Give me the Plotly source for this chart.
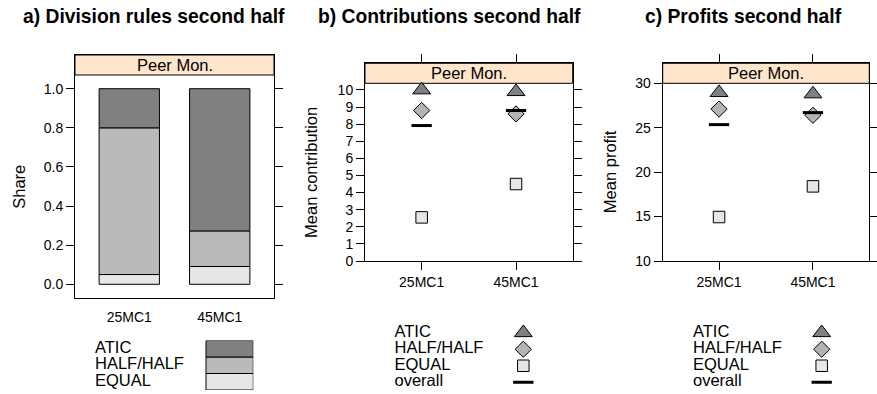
import plotly.graph_objects as go

W, H = 877, 394

# ---------------- data ----------------
categories = ['25MC1', '45MC1']
rules = ['ATIC', 'HALF/HALF', 'EQUAL']
share_equal = [0.05, 0.091]
share_half = [0.75, 0.182]
share_atic = [0.20, 0.727]

contrib_atic = [10.0, 9.9]
contrib_half = [8.8, 8.6]
contrib_equal = [2.55, 4.5]
contrib_overall = [7.92, 8.8]

profit_atic = [28.95, 28.8]
profit_half = [27.1, 26.4]
profit_equal = [14.95, 18.4]
profit_overall = [25.35, 26.7]

share_ticks = [0.0, 0.2, 0.4, 0.6, 0.8, 1.0]
contrib_ticks = list(range(0, 11))
profit_ticks = [10, 15, 20, 25, 30]

panel_titles = ['a) Division rules second half', 'b) Contributions second half', 'c) Profits second half']
y_titles = ['Share', 'Mean contribution', 'Mean profit']
strip_label = 'Peer Mon.'
legend_point_labels = ['ATIC', 'HALF/HALF', 'EQUAL', 'overall']

# ---------------- style ----------------
FONT = 'Liberation Sans, Arial, Helvetica, sans-serif'
C_ATIC, C_HALF, C_EQUAL = '#808080', '#bababa', '#e6e6e6'
M_ATIC, M_HALF, M_EQUAL = '#808080', '#b3b3b3', '#e6e6e6'
STRIP = '#ffe5cc'
INK = '#000000'
TXT = 16.5

def px(p):
    return p / W

def py(p):
    return 1 - p / H

# panel geometry in px: left, right, strip_top, plot_top, bottom, y-range
panels = [
    dict(l=75, r=274, st=55, pt=75, b=298, yr=(-0.07, 1.07)),
    dict(l=365, r=572.7, st=63.3, pt=83.3, b=261, yr=(0, 10.39)),
    dict(l=662.7, r=869.3, st=63.3, pt=83.3, b=261, yr=(10, 30)),
]

SYMS = [('triangle-up', 15.5, M_ATIC, 1),
        ('diamond', 12.5, M_HALF, 1),
        ('square', 11.5, M_EQUAL, 1),
        ('line-ew', 14.5, INK, 3)]

fig = go.Figure()

# ---- panel a: stacked bars
base_half = [e for e in share_equal]
base_atic = [e + h for e, h in zip(share_equal, share_half)]
for vals, base, col in [(share_equal, [0, 0], C_EQUAL),
                        (share_half, base_half, C_HALF),
                        (share_atic, base_atic, C_ATIC)]:
    fig.add_trace(go.Bar(x=categories, y=vals, base=base, width=0.667,
                         marker=dict(color=col, line=dict(color=INK, width=1)),
                         xaxis='x', yaxis='y', showlegend=False))

# ---- panels b, c: points
def add_points(series, xa, ya):
    for vals, (sym, size, col, lw) in zip(series, SYMS):
        fig.add_trace(go.Scatter(x=categories, y=vals, mode='markers', xaxis=xa, yaxis=ya,
                                 cliponaxis=False,
                                 marker=dict(symbol=sym, size=size, color=col,
                                             line=dict(color=INK, width=lw)),
                                 showlegend=False))

add_points([contrib_atic, contrib_half, contrib_equal, contrib_overall], 'x2', 'y2')
add_points([profit_atic, profit_half, profit_equal, profit_overall], 'x3', 'y3')

# ---- axes for the panels
tick_sets = [(share_ticks, [f'{v:.1f}' for v in share_ticks]),
             (contrib_ticks, [str(v) for v in contrib_ticks]),
             (profit_ticks, [str(v) for v in profit_ticks])]
layout_axes = {}
for i, p in enumerate(panels):
    sfx = '' if i == 0 else str(i + 1)
    y0, y1 = p['yr']
    ytop = y1 + (y1 - y0) * (p['pt'] - p['st']) / (p['b'] - p['pt'])
    xa = dict(domain=[px(p['l']), px(p['r'])], anchor='y' + sfx, type='category',
              range=[-0.6, 1.6], showline=True, linecolor=INK, linewidth=1,
              showgrid=False, zeroline=False, automargin=False,
              tickfont=dict(family=FONT, size=14, color=INK), fixedrange=True)
    if i == 0:
        xa.update(ticks='outside', ticklen=6, tickcolor='rgba(0,0,0,0)', mirror=True)
    else:
        xa.update(ticks='outside', ticklen=8, tickcolor=INK, tickwidth=1, mirror='ticks')
    ya = dict(domain=[py(p['b']), py(p['st'])], anchor='x' + sfx,
              range=[y0, ytop], tickvals=tick_sets[i][0], ticktext=tick_sets[i][1],
              showline=True, linecolor=INK, linewidth=1, mirror='ticks',
              ticks='outside', ticklen=8, tickcolor=INK, tickwidth=1,
              showgrid=False, zeroline=False, automargin=False,
              tickfont=dict(family=FONT, size=14, color=INK), fixedrange=True)
    layout_axes['xaxis' + sfx] = xa
    layout_axes['yaxis' + sfx] = ya

# ---- legend a (bars)
la_l, la_r, la_sw, la_t, la_b = 95, 253.3, 206, 340.5, 390
rows_a = ['EQUAL', 'HALF/HALF', 'ATIC']
fig.add_trace(go.Bar(y=rows_a, x=[la_r - la_sw] * 3, base=[la_sw - la_l] * 3, orientation='h',
                     width=1, marker=dict(color=[C_EQUAL, C_HALF, C_ATIC],
                                          line=dict(color=INK, width=1)),
                     xaxis='x4', yaxis='y4', showlegend=False))
fig.add_trace(go.Scatter(y=rows_a, x=[0] * 3, mode='text', text=rows_a,
                         textposition='middle right', cliponaxis=False,
                         textfont=dict(family=FONT, size=TXT, color=INK),
                         xaxis='x4', yaxis='y4', showlegend=False))
layout_axes['xaxis4'] = dict(domain=[px(la_l), px(la_r)], anchor='y4', range=[0, la_r - la_l],
                             visible=False, fixedrange=True, automargin=False)
layout_axes['yaxis4'] = dict(domain=[py(la_b), py(la_t)], anchor='x4', type='category',
                             categoryorder='array', categoryarray=rows_a,
                             range=[-0.5, 2.5], visible=False, fixedrange=True,
                             automargin=False)

# ---- legends b, c (points)
rows_p = ['ATIC', 'HALF/HALF', 'EQUAL', 'overall']
rows_p_bottom_up = rows_p[::-1]
leg_specs = [(394.5, 523.3, 'x5', 'y5'), (693, 821.7, 'x6', 'y6')]
lp_t, lp_b = 324.5, 390.5
for (l, sx, xa, ya) in leg_specs:
    r = sx + 15
    fig.add_trace(go.Scatter(y=rows_p, x=[0] * 4, mode='text', text=rows_p,
                             textposition='middle right', cliponaxis=False,
                             textfont=dict(family=FONT, size=TXT, color=INK),
                             xaxis=xa, yaxis=ya, showlegend=False))
    for row, (sym, size, col, lw) in zip(rows_p, SYMS):
        fig.add_trace(go.Scatter(y=[row], x=[sx - l], mode='markers', cliponaxis=False,
                                 marker=dict(symbol=sym, size=size, color=col,
                                             line=dict(color=INK, width=lw)),
                                 xaxis=xa, yaxis=ya, showlegend=False))
    n = xa[1:]
    layout_axes['xaxis' + n] = dict(domain=[px(l), px(r)], anchor='y' + n, range=[0, r - l],
                                    visible=False, fixedrange=True, automargin=False)
    layout_axes['yaxis' + n] = dict(domain=[py(lp_b), py(lp_t)], anchor='x' + n,
                                    type='category', categoryorder='array',
                                    categoryarray=rows_p_bottom_up,
                                    range=[-0.5, 3.5], visible=False, fixedrange=True,
                                    automargin=False)

# ---- strips, titles, axis labels
shapes = []
annotations = []
title_cx = [153.7, 449, 743]
ylab_cx = [18.3, 310.8, 610]
for i, p in enumerate(panels):
    shapes.append(dict(type='rect', xref='paper', yref='paper', layer='below',
                       x0=px(p['l']), x1=px(p['r']), y0=py(p['pt']), y1=py(p['st']),
                       fillcolor=STRIP, line=dict(color=INK, width=1)))
    annotations.append(dict(xref='paper', yref='paper', x=px((p['l'] + p['r']) / 2),
                            y=py((p['st'] + p['pt']) / 2), text=strip_label, showarrow=False,
                            xanchor='center', yanchor='middle',
                            font=dict(family=FONT, size=TXT, color=INK)))
    annotations.append(dict(xref='paper', yref='paper', x=px(title_cx[i]), y=py(17),
                            text='<b>' + panel_titles[i] + '</b>', showarrow=False,
                            xanchor='center', yanchor='middle',
                            font=dict(family=FONT, size=19.3, color=INK)))
    annotations.append(dict(xref='paper', yref='paper', x=px(ylab_cx[i]),
                            y=py((p['pt'] + p['b']) / 2), text=y_titles[i], showarrow=False,
                            textangle=-90, xanchor='center', yanchor='middle',
                            font=dict(family=FONT, size=TXT, color=INK)))

fig.update_layout(
    width=W, height=H, margin=dict(l=0, r=0, t=0, b=0, autoexpand=False),
    paper_bgcolor='white', plot_bgcolor='rgba(0,0,0,0)',
    barmode='overlay', showlegend=False,
    font=dict(family=FONT, color=INK),
    shapes=shapes, annotations=annotations,
    **layout_axes,
)

fig.write_html('out.html', config={'displayModeBar': False},
               post_script="document.body.style.margin='0';document.body.style.overflow='hidden';")
